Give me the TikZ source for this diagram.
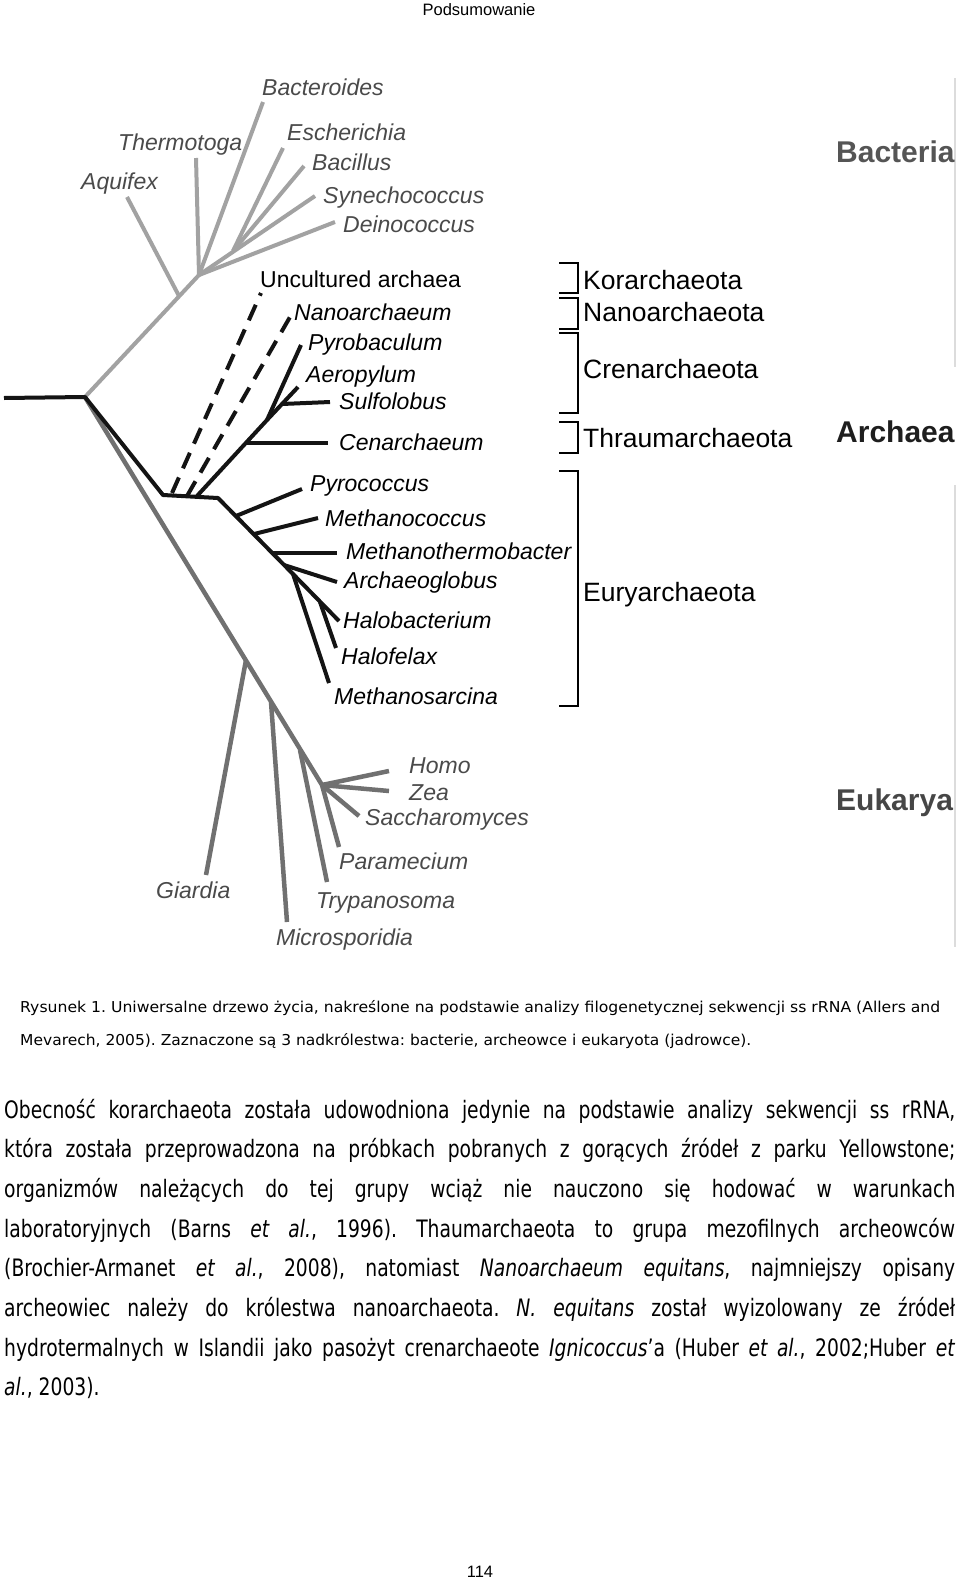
\documentclass[tikz,border=0pt]{standalone}
\usepackage{fontspec}
\usepackage{graphicx}
\setmainfont{Liberation Sans}
\newfontfamily\capfont{DejaVu Sans}
\newfontfamily\bodyfont[FakeStretch=0.78]{DejaVu Sans}
\definecolor{bgray}{HTML}{A2A2A2}
\definecolor{egray}{HTML}{707070}
\definecolor{lgray}{HTML}{4A4A4A}
\definecolor{archk}{HTML}{141414}
\definecolor{edgeg}{HTML}{DCDCDC}
\newcommand{\jline}[1]{\makebox[951pt][s]{#1}}
\frenchspacing
\begin{document}
\begin{tikzpicture}[x=1pt,y=-1pt,
  bline/.style={draw=bgray,line width=4pt},
  eline/.style={draw=egray,line width=4.5pt},
  aline/.style={draw=archk,line width=4pt,line join=round},
  dline/.style={draw=archk,line width=4pt,dash pattern=on 17pt off 10pt},
  brk/.style={draw=black,line width=1.4pt},
  tx/.style={inner sep=0pt,anchor=west,text depth=0pt},
  blab/.style={tx,font=\fontsize{23}{23}\selectfont\itshape,text=lgray,text height=16.5pt},
  alab/.style={tx,font=\fontsize{23}{23}\selectfont\itshape,text=black,text height=16.5pt},
  glab/.style={tx,font=\fontsize{26.5}{26.5}\selectfont,text=black,text height=19pt},
  dlab/.style={tx,font=\fontsize{30}{30}\selectfont\bfseries,text height=21.5pt},
  bodyline/.style={inner sep=0pt,anchor=base west,font=\bodyfont\fontsize{24}{24}\selectfont\frenchspacing},
  capline/.style={inner sep=0pt,anchor=base west,font=\capfont\fontsize{15}{15}\selectfont\frenchspacing},
]
\useasboundingbox (0,0) rectangle (960,1582);
\fill[white] (0,0) rectangle (960,1582);

% header and page number
\node[inner sep=0pt,anchor=base,font=\fontsize{16.5}{16.5}\selectfont] (hdr) at (479,16) {Podsumowanie};
\node[inner sep=0pt,anchor=base,font=\fontsize{16.5}{16.5}\selectfont] (pg) at (480,1577) {114};

% right edge lines
\draw[draw=edgeg,line width=2pt] (955,78) -- (955,367);
\draw[draw=edgeg,line width=2pt] (955,485) -- (955,947);

% ---------- coordinates ----------
\coordinate (root) at (4,398);
\coordinate (R) at (85,397);
% bacteria
\coordinate (B0) at (199,275);
\coordinate (Aq) at (179,296);
\coordinate (J) at (233,251);
\coordinate (tAqu) at (127,197);
\coordinate (tThe) at (196,158);
\coordinate (tBac) at (263,102);
\coordinate (tEsc) at (283,148);
\coordinate (tBcl) at (304,166);
\coordinate (tSyn) at (315,196);
\coordinate (tDei) at (335,222);
% archaea
\coordinate (A1) at (163,495);
\coordinate (A2) at (218,498);
\coordinate (d1b) at (172,493);
\coordinate (d1t) at (261,293);
\coordinate (d2b) at (187,496);
\coordinate (d2t) at (290,317);
\coordinate (C0) at (197,496);
\coordinate (C1) at (267,420);
\coordinate (tPyb) at (301,345);
\coordinate (Cn) at (246,443);
\coordinate (tCen) at (328,443);
\coordinate (tAer) at (298,387);
\coordinate (Sf) at (282,404);
\coordinate (tSul) at (330,402);
\coordinate (Py) at (236,516);
\coordinate (tPyc) at (302,489);
\coordinate (Mc) at (254,534);
\coordinate (tMcc) at (318,518);
\coordinate (Mt) at (272,553);
\coordinate (tMtb) at (337,553);
\coordinate (Ag) at (284,565);
\coordinate (tArc) at (337,582);
\coordinate (H) at (293,574);
\coordinate (tHal) at (339,621);
\coordinate (Hf) at (320,602);
\coordinate (tHfx) at (336,648);
\coordinate (tMsa) at (329,683);
% eukarya
\coordinate (E0) at (322,785);
\coordinate (G) at (246,660);
\coordinate (tGia) at (206,875);
\coordinate (M) at (271,702);
\coordinate (tMic) at (287,922);
\coordinate (T) at (300,750);
\coordinate (tTry) at (327,882);
\coordinate (tPar) at (339,847);
\coordinate (tHom) at (389,771);
\coordinate (tZea) at (389,791);
\coordinate (tSac) at (359,816);

% ---------- eukarya branches ----------
\draw[eline] (R) -- (E0);
\draw[eline] (G) -- (tGia);
\draw[eline] (M) -- (tMic);
\draw[eline] (T) -- (tTry);
\draw[eline] (E0) -- (tPar);
\draw[eline] (E0) -- (tHom);
\draw[eline] (E0) -- (tZea);
\draw[eline] (E0) -- (tSac);

% ---------- bacteria branches ----------
\draw[bline] (R) -- (B0);
\draw[bline] (Aq) -- (tAqu);
\draw[bline] (B0) -- (tThe);
\draw[bline] (B0) -- (tBac);
\draw[bline] (B0) -- (tSyn);
\draw[bline] (J) -- (tEsc);
\draw[bline] (J) -- (tBcl);
\draw[bline] (B0) -- (tDei);

% ---------- archaea branches ----------
\draw[aline] (root) -- (R) -- (A1) -- (A2) -- (H) -- (tMsa);
\draw[dline] (d1b) -- (d1t);
\draw[dline] (d2b) -- (d2t);
\draw[aline] (C0) -- (C1) -- (tPyb);
\draw[aline] (Cn) -- (tCen);
\draw[aline] (C1) -- (tAer);
\draw[aline] (Sf) -- (tSul);
\draw[aline] (Py) -- (tPyc);
\draw[aline] (Mc) -- (tMcc);
\draw[aline] (Mt) -- (tMtb);
\draw[aline] (Ag) -- (tArc);
\draw[aline] (H) -- (tHal);
\draw[aline] (Hf) -- (tHfx);

% ---------- labels: bacteria ----------
\node[blab] (lBac) at (262,87) {Bacteroides};
\node[blab] (lThe) at (118,142) {Thermotoga};
\node[blab] (lAqu) at (81,181) {Aquifex};
\node[blab] (lEsc) at (287,132) {Escherichia};
\node[blab] (lBcl) at (312,162) {Bacillus};
\node[blab] (lSyn) at (323,195) {Synechococcus};
\node[blab] (lDei) at (343,224) {Deinococcus};

% ---------- labels: archaea ----------
\node[alab,font=\fontsize{23}{23}\selectfont] (lUnc) at (260,279) {Uncultured archaea};
\node[alab] (lNan) at (294,312) {Nanoarchaeum};
\node[alab] (lPyb) at (308,342) {Pyrobaculum};
\node[alab] (lAer) at (306,374) {Aeropylum};
\node[alab] (lSul) at (339,401) {Sulfolobus};
\node[alab] (lCen) at (339,442) {Cenarchaeum};
\node[alab] (lPyc) at (310,483) {Pyrococcus};
\node[alab] (lMcc) at (325,518) {Methanococcus};
\node[alab] (lMtb) at (346,551) {Methanothermobacter};
\node[alab] (lArc) at (344,580) {Archaeoglobus};
\node[alab] (lHal) at (343,620) {Halobacterium};
\node[alab] (lHfx) at (341,656) {Halofelax};
\node[alab] (lMsa) at (334,696) {Methanosarcina};

% ---------- labels: eukarya ----------
\node[blab] (lHom) at (409,765) {Homo};
\node[blab] (lZea) at (409,792) {Zea};
\node[blab] (lSac) at (365,817) {Saccharomyces};
\node[blab] (lPar) at (339,861) {Paramecium};
\node[blab] (lGia) at (156,890) {Giardia};
\node[blab] (lTry) at (316,900) {Trypanosoma};
\node[blab] (lMic) at (276,937) {Microsporidia};

% ---------- brackets and group labels ----------
\draw[brk] (559,263) -- (578,263) -- (578,293) -- (559,293);
\draw[brk] (559,298) -- (578,298) -- (578,329) -- (559,329);
\draw[brk] (559,333) -- (578,333) -- (578,413) -- (559,413);
\draw[brk] (559,422) -- (578,422) -- (578,453) -- (559,453);
\draw[brk] (559,471) -- (578,471) -- (578,706) -- (559,706);
\node[glab] (gKor) at (583,280) {Korarchaeota};
\node[glab] (gNan) at (583,312) {Nanoarchaeota};
\node[glab] (gCre) at (583,369) {Crenarchaeota};
\node[glab] (gTha) at (583,438) {Thraumarchaeota};
\node[glab] (gEur) at (583,592) {Euryarchaeota};

\node[dlab,text={rgb,255:red,85;green,85;blue,85}] (dBac) at (836,152) {Bacteria};
\node[dlab,text={rgb,255:red,30;green,30;blue,30}] (dArc) at (836,432) {Archaea};
\node[dlab,text={rgb,255:red,70;green,70;blue,70}] (dEuk) at (836,800) {Eukarya};

% ---------- caption ----------
\node[capline] (cap1) at (20,1012) {\resizebox{920pt}{\height}{Rysunek 1. Uniwersalne drzewo życia, nakreślone na podstawie analizy filogenetycznej sekwencji ss rRNA (Allers and}};
\node[capline] (cap2) at (20,1045) {\resizebox{731pt}{\height}{Mevarech, 2005). Zaznaczone są 3 nadkrólestwa: bacterie, archeowce i eukaryota (jadrowce).}};

% ---------- body text ----------
\node[bodyline] (p1) at (4,1118) {\jline{Obecność korarchaeota została udowodniona jedynie na podstawie analizy sekwencji ss rRNA,}};
\node[bodyline] (p2) at (4,1157.7) {\jline{która została przeprowadzona na próbkach pobranych z gorących źródeł z parku Yellowstone;}};
\node[bodyline] (p3) at (4,1197.4) {\jline{organizmów należących do tej grupy wciąż nie nauczono się hodować w warunkach}};
\node[bodyline] (p4) at (4,1237.1) {\jline{laboratoryjnych (Barns \textit{et al.}, 1996). Thaumarchaeota to grupa mezofilnych archeowców}};
\node[bodyline] (p5) at (4,1276.8) {\jline{(Brochier-Armanet \textit{et al.}, 2008), natomiast \textit{Nanoarchaeum equitans}, najmniejszy opisany}};
\node[bodyline] (p6) at (4,1316.5) {\jline{archeowiec należy do królestwa nanoarchaeota. \textit{N. equitans} został wyizolowany ze źródeł}};
\node[bodyline] (p7) at (4,1356.2) {\jline{hydrotermalnych w Islandii jako pasożyt crenarchaeote \textit{Ignicoccus}’a (Huber \textit{et al.}, 2002;Huber \textit{et}}};
\node[bodyline] (p8) at (4,1395.9) {\textit{al.}, 2003).};
\end{tikzpicture}
\end{document}
